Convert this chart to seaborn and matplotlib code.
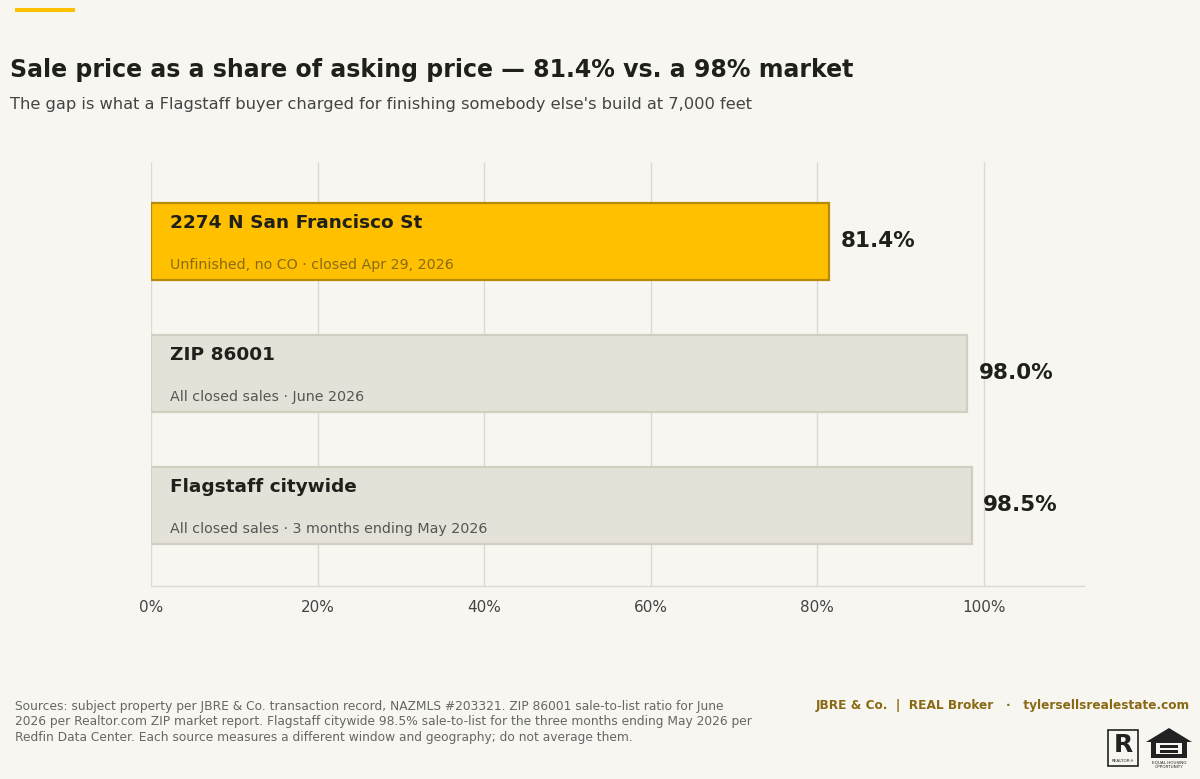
import matplotlib
matplotlib.use("Agg")
import matplotlib.pyplot as plt
import matplotlib.patches as mpatches
import seaborn as sns
import pandas as pd

# ── data ──────────────────────────────────────────────
names = ["2274 N San Francisco St", "ZIP 86001", "Flagstaff citywide"]
details = ["Unfinished, no CO · closed Apr 29, 2026",
           "All closed sales · June 2026",
           "All closed sales · 3 months ending May 2026"]
ratios = [81.4, 98.0, 98.5]
tick_vals = [0, 20, 40, 60, 80, 100]

title = "Sale price as a share of asking price — 81.4% vs. a 98% market"
subtitle = "The gap is what a Flagstaff buyer charged for finishing somebody else's build at 7,000 feet"
source = ("Sources: subject property per JBRE & Co. transaction record, NAZMLS #203321. ZIP 86001 sale-to-list ratio for June\n"
          "2026 per Realtor.com ZIP market report. Flagstaff citywide 98.5% sale-to-list for the three months ending May 2026 per\n"
          "Redfin Data Center. Each source measures a different window and geography; do not average them.")
brand = "JBRE & Co.  |  REAL Broker   ·   tylersellsrealestate.com"

BG = "#f7f6f1"
GOLD = "#ffc000"
GOLD_EDGE = "#b88a0a"
GREY = "#e4e2d8"
GREY_EDGE = "#d2cec1"
GRID = "#dcd9d0"
INK = "#1f1f1c"

df = pd.DataFrame({"name": names, "detail": details, "ratio": ratios})

sns.set_theme(style="white")
plt.rcParams["font.family"] = ["DejaVu Sans"]

fig = plt.figure(figsize=(12, 7.79), dpi=100, facecolor=BG)
ax = fig.add_axes([151 / 1200, 1 - 586 / 779, (1084 - 151) / 1200, (586 - 162) / 779])
ax.set_facecolor(BG)

sns.barplot(data=df, x="ratio", y="name", hue="name", palette=[GOLD, GREY, GREY],
            saturation=1, width=0.58, legend=False, ax=ax, zorder=3)

edges = [GOLD_EDGE, GREY_EDGE, GREY_EDGE]
for bar, ec in zip(ax.patches, edges):
    bar.set_edgecolor(ec)
    bar.set_linewidth(1.6)

ax.set_xlim(0, 112)
ax.set_ylim(2.61, -0.6)
ax.set_xticks(tick_vals)
ax.set_xticklabels([f"{v}%" for v in tick_vals], fontsize=11, color="#444444")
ax.set_yticks([])
ax.set_xlabel("")
ax.set_ylabel("")
ax.tick_params(axis="x", length=4, color=GRID, width=1, pad=6)
for v in tick_vals:
    ax.axvline(v, color=GRID, lw=1, zorder=0)
for s in ["top", "right", "left"]:
    ax.spines[s].set_visible(False)
ax.spines["bottom"].set_color(GRID)
ax.spines["bottom"].set_linewidth(1)

# labels inside and beside bars
for i, row in df.iterrows():
    sub_col = "#8a6a12" if i == 0 else "#555555"
    ax.text(2.3, i - 0.14, row["name"], fontsize=13.3, fontweight="bold", color=INK,
            va="center", ha="left", zorder=4)
    ax.text(2.3, i + 0.18, row["detail"], fontsize=10.3, color=sub_col,
            va="center", ha="left", zorder=4)
    ax.text(row["ratio"] + 1.4, i, f"{row['ratio']:.1f}%", fontsize=15.5,
            fontweight="bold", color=INK, va="center", ha="left", zorder=4)

# header
fig.add_artist(mpatches.Rectangle((15 / 1200, 1 - 12 / 779), 60 / 1200, 4 / 779,
                                  transform=fig.transFigure, color=GOLD, lw=0))
fig.text(10 / 1200, 1 - 70 / 779, title, fontsize=17, fontweight="bold", color=INK,
         va="center", ha="left")
fig.text(10 / 1200, 1 - 104 / 779, subtitle, fontsize=11.7, color="#444444",
         va="center", ha="left")

# footer
fig.text(15 / 1200, 1 - 700 / 779, source, fontsize=8.8, color="#666666",
         va="top", ha="left", linespacing=1.25)
fig.text(1190 / 1200, 1 - 706 / 779, brand, fontsize=8.7, fontweight="bold",
         color="#8a6914", va="center", ha="right")


def fx(px):
    return px / 1200


def fy(py):
    return 1 - py / 779


# realtor logo
fig.add_artist(mpatches.Rectangle((fx(1108), fy(766)), fx(30), 36 / 779,
                                  transform=fig.transFigure, fill=False,
                                  edgecolor="#222222", lw=1.2))
fig.text(fx(1123), fy(745), "R", fontsize=18, fontweight="bold", color="#222222",
         ha="center", va="center")
fig.text(fx(1123), fy(761), "REALTOR®", fontsize=3, color="#222222",
         ha="center", va="center")

# equal housing logo
house = mpatches.Polygon([(fx(1146), fy(742)), (fx(1169), fy(728)), (fx(1192), fy(742)),
                          (fx(1187), fy(742)), (fx(1187), fy(758)), (fx(1151), fy(758)),
                          (fx(1151), fy(742))],
                         closed=True, transform=fig.transFigure, color="#222222", lw=0)
fig.add_artist(house)
fig.add_artist(mpatches.Rectangle((fx(1156), fy(754)), fx(26), 11 / 779,
                                  transform=fig.transFigure, color=BG, lw=0))
for yy in (745, 750):
    fig.add_artist(mpatches.Rectangle((fx(1160), fy(yy + 2.5)), fx(18), 2.5 / 779,
                                      transform=fig.transFigure, color="#222222", lw=0))
fig.text(fx(1169), fy(762), "EQUAL HOUSING", fontsize=3, color="#222222",
         ha="center", va="center")
fig.text(fx(1169), fy(767), "OPPORTUNITY", fontsize=3, color="#222222",
         ha="center", va="center")

fig.savefig("out.png", dpi=100, facecolor=BG)
